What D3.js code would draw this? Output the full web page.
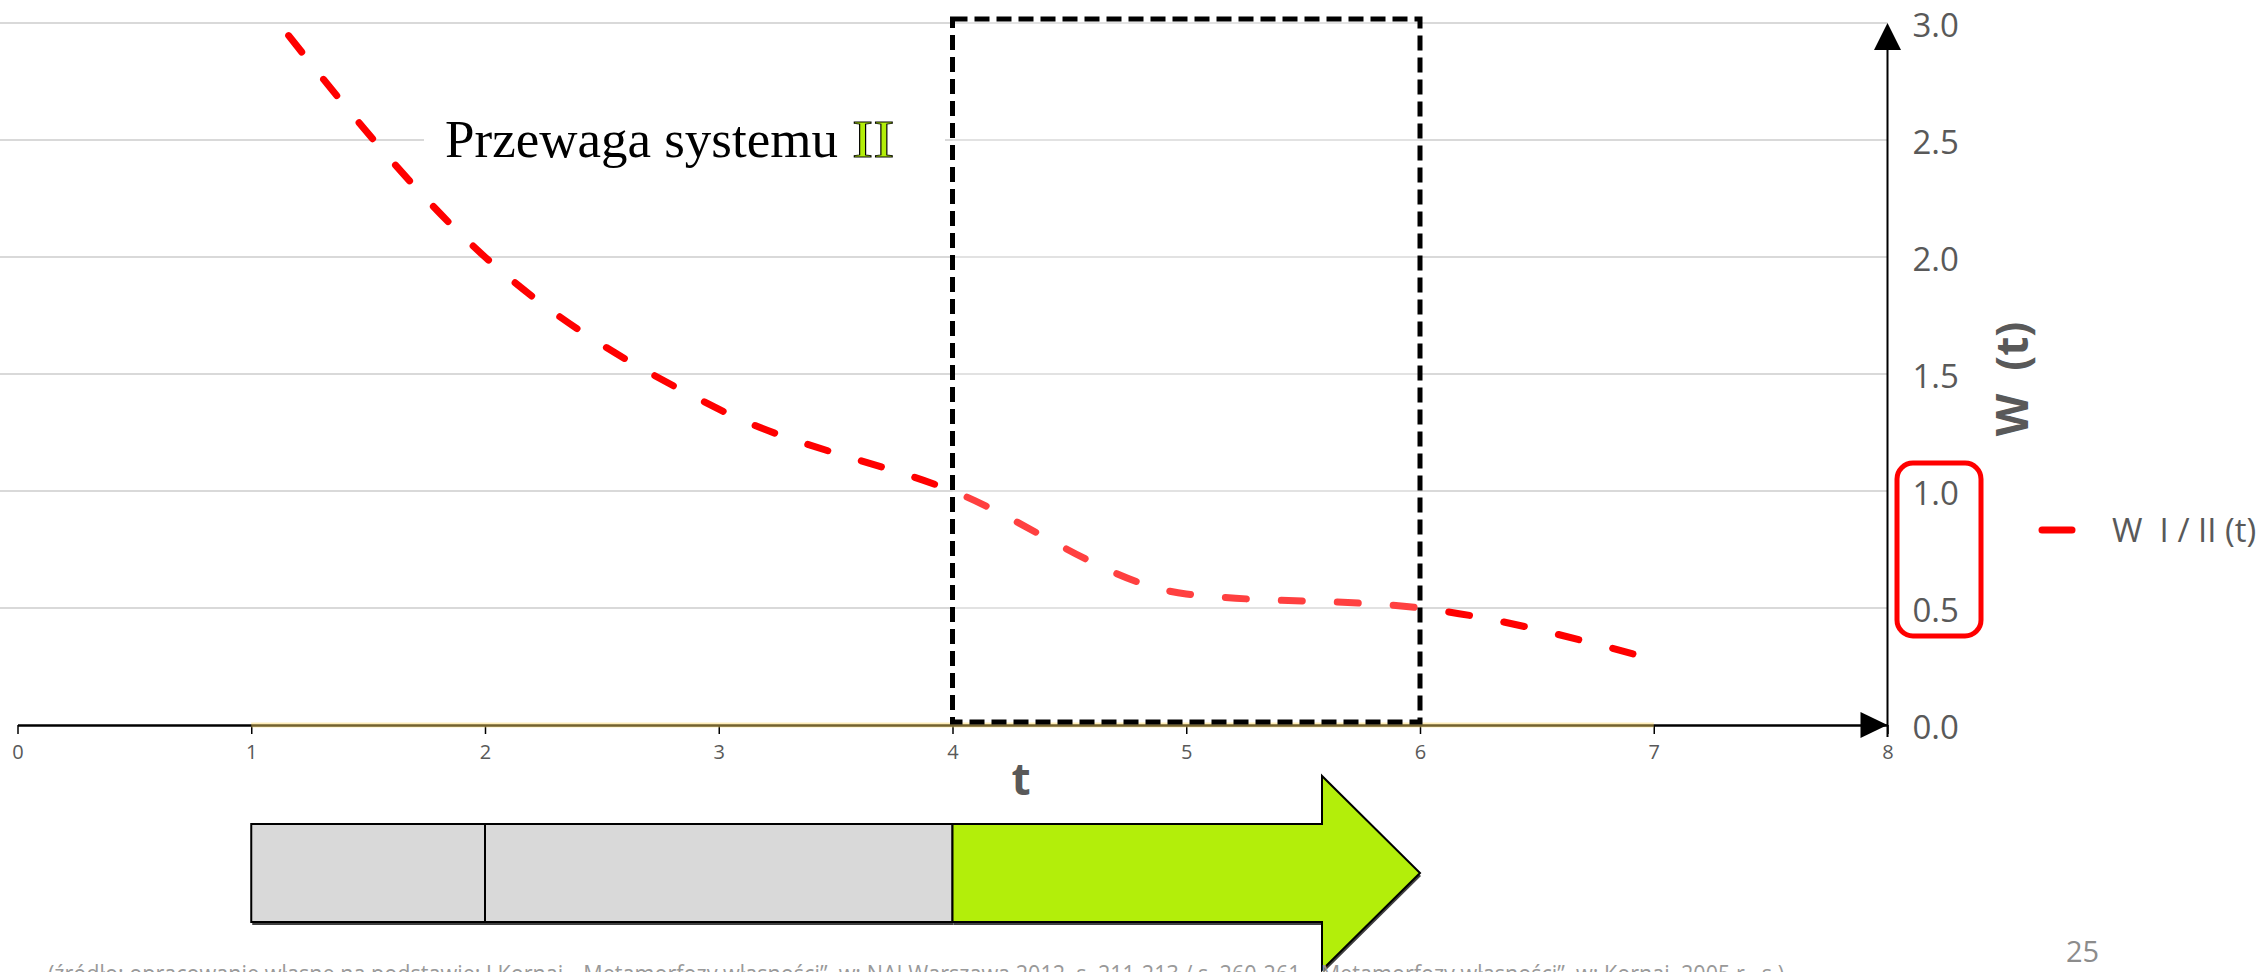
<!DOCTYPE html>
<html><head><meta charset="utf-8">
<script src="https://cdn.jsdelivr.net/npm/d3@7"></script>
<style>body{margin:0;background:#fff;} svg{display:block;} text{white-space:pre;}</style>
</head><body>
<svg id="chart" width="2267" height="972"></svg>
<script>
// ---- data ----
const tValues = [1, 2, 3, 4, 5, 6, 7];
const wValues = [3.15, 2.0, 1.35, 1.0, 0.56, 0.5, 0.28];
const baseValues = [0, 0, 0, 0, 0, 0, 0];
const xTicks = [0, 1, 2, 3, 4, 5, 6, 7, 8];
const yTicks = [0, 0.5, 1.0, 1.5, 2.0, 2.5, 3.0];
const highlightRange = [4, 6];
const phaseBlocks = [[1, 2], [2, 4]];
const arrowRange = [4, 6];
const markedTicks = [1.0, 0.5];
const seriesName = "W  I / II (t)";
const yTitle = "W  (t)";
const xTitle = "t";
const annotation = "Przewaga systemu ";
const annotationNumeral = "II";
const pageNumber = "25";
const sourceNote = "(źródło: opracowanie własne na podstawie: J.Kornai, „Metamorfozy własności”, w: NAI Warszawa 2012, s. 211-213 / s. 260-261, „Metamorfozy własności”, w: Kornai, 2005 r., s.)";

const svg = d3.select("#chart");
const x = d3.scaleLinear().domain([0, 8]).range([17.5, 1887.5]);
const y = d3.scaleLinear().domain([0, 3]).range([725, 23]);
const grey = "#595959";
const green = "#b3ee0a";
const sans = "'Open Sans', 'Noto Sans', sans-serif";

// clip
svg.append("defs").append("clipPath").attr("id", "plotClip")
  .append("rect").attr("x", 0).attr("y", y(3)).attr("width", x(8)).attr("height", y(0) - y(3) + 10);

// gridlines
svg.append("g").selectAll("line").data(yTicks.filter(d => d > 0)).join("line")
  .attr("x1", 0).attr("x2", x(8)).attr("y1", d => y(d)).attr("y2", d => y(d))
  .attr("stroke", "#d9d9d9").attr("stroke-width", 2);

// white text box of annotation
svg.append("rect").attr("x", 424).attr("y", 95).attr("width", 521).attr("height", 85).attr("fill", "#fff");

// x axis
const xAxis = svg.append("g").attr("transform", `translate(0,${y(0)})`)
  .call(d3.axisBottom(x).tickValues(xTicks).tickSize(9).tickSizeOuter(0).tickPadding(11).tickFormat(d3.format("d")));
xAxis.select(".domain").attr("stroke", "#000").attr("stroke-width", 2.5);
xAxis.selectAll(".tick line").attr("stroke", "#000").attr("stroke-width", 1.5);
xAxis.selectAll(".tick text").attr("fill", grey).attr("font-size", 20).attr("font-family", sans);
svg.append("path")
  .attr("d", `M${x(8) - 27},${y(0) - 13}L${x(8)},${y(0)}L${x(8) - 27},${y(0) + 13}Z`).attr("fill", "#000");

// gold zero series
svg.append("path").datum(tValues.map((t, i) => [t, baseValues[i]]))
  .attr("d", d3.line().x(d => x(d[0])).y(d => y(d[1])))
  .attr("fill", "none").attr("stroke", "#ffd966").attr("stroke-opacity", 0.45).attr("stroke-width", 5);

// y axis
svg.append("line").attr("x1", x(8)).attr("x2", x(8)).attr("y1", y(3) + 25).attr("y2", y(0) + 12)
  .attr("stroke", "#000").attr("stroke-width", 2);
svg.append("path")
  .attr("d", `M${x(8) - 13.5},${y(3) + 27}L${x(8)},${y(3)}L${x(8) + 13.5},${y(3) + 27}Z`).attr("fill", "#000");
const yAxis = svg.append("g").attr("transform", `translate(${x(8)},0)`)
  .call(d3.axisRight(y).tickValues(yTicks).tickSize(0).tickPadding(25).tickFormat(d3.format(".1f")));
yAxis.select(".domain").remove();
yAxis.selectAll(".tick text").attr("fill", grey).attr("font-size", 33).attr("font-family", sans).attr("dy", "0.4em");

// red rounded rect around marked ticks
svg.append("rect")
  .attr("x", x(8) + 9.5).attr("y", y(d3.max(markedTicks)) - 28)
  .attr("width", 84).attr("height", y(d3.min(markedTicks)) - y(d3.max(markedTicks)) + 56)
  .attr("rx", 16).attr("fill", "none").attr("stroke", "#ff0000").attr("stroke-width", 5);

// axis titles
svg.append("text").attr("x", 1021).attr("y", 795).attr("text-anchor", "middle")
  .attr("font-family", sans).attr("font-weight", "bold").attr("font-size", 44).attr("fill", grey).text(xTitle);
svg.append("text").attr("transform", "translate(2028,379) rotate(-90)").attr("text-anchor", "middle")
  .attr("font-family", sans).attr("font-weight", "bold").attr("font-size", 44).attr("fill", grey).text(yTitle);

// series line
svg.append("path").datum(tValues.map((t, i) => [t, wValues[i]]))
  .attr("clip-path", "url(#plotClip)")
  .attr("d", d3.line().x(d => x(d[0])).y(d => y(d[1])).curve(d3.curveMonotoneX))
  .attr("fill", "none").attr("stroke", "#ff0000").attr("stroke-width", 7)
  .attr("stroke-dasharray", "21 35").attr("stroke-dashoffset", -4.5).attr("stroke-linecap", "round");

// highlight overlay and dashed box
svg.append("rect").attr("x", x(highlightRange[0])).attr("y", y(3) - 4)
  .attr("width", x(highlightRange[1]) - x(highlightRange[0])).attr("height", y(0) - y(3) + 1)
  .attr("fill", "#fff").attr("fill-opacity", 0.25);
svg.append("rect").attr("x", x(highlightRange[0])).attr("y", y(3) - 4)
  .attr("width", x(highlightRange[1]) - x(highlightRange[0])).attr("height", y(0) - 3 - (y(3) - 4))
  .attr("fill", "none").attr("stroke", "#000").attr("stroke-width", 5).attr("stroke-dasharray", "15 7");

// legend
svg.append("line").attr("x1", 2042).attr("x2", 2072).attr("y1", 530).attr("y2", 530)
  .attr("stroke", "#ff0000").attr("stroke-width", 7).attr("stroke-linecap", "round");
svg.append("text").attr("x", 2112).attr("y", 542).attr("font-family", sans).attr("font-size", 33)
  .attr("fill", grey).text(seriesName);

// annotation
svg.append("text").attr("x", 445).attr("y", 157).attr("font-family", "'Liberation Serif', 'Times New Roman', serif")
  .attr("font-size", 53).attr("fill", "#000").text(annotation);
svg.append("text").attr("transform", "translate(852,157) scale(1.2,1)")
  .attr("font-family", "'Liberation Serif', 'Times New Roman', serif").attr("font-size", 53)
  .attr("fill", green).attr("stroke", "#000").attr("stroke-width", 1).text(annotationNumeral);

// bottom process blocks
const bTop = 824, bBot = 922, hTop = 776, hBot = 970, mid = (bTop + bBot) / 2;
const blocks = svg.append("g");
blocks.selectAll("rect.sh").data(phaseBlocks).join("rect").attr("class", "sh")
  .attr("x", d => x(d[0]) + 1).attr("y", bTop + 3).attr("width", d => x(d[1]) - x(d[0])).attr("height", bBot - bTop)
  .attr("fill", "#404040");
blocks.selectAll("rect.bl").data(phaseBlocks).join("rect").attr("class", "bl")
  .attr("x", d => x(d[0])).attr("y", bTop).attr("width", d => x(d[1]) - x(d[0])).attr("height", bBot - bTop)
  .attr("fill", "#d9d9d9").attr("stroke", "#000").attr("stroke-width", 2);
const headX = x(arrowRange[1]) - 98;
const arrowD = `M${x(arrowRange[0])},${bTop}L${headX},${bTop}L${headX},${hTop}L${x(arrowRange[1])},${mid}L${headX},${hBot}L${headX},${bBot}L${x(arrowRange[0])},${bBot}Z`;
blocks.append("path").attr("d", arrowD).attr("transform", "translate(1,3)").attr("fill", "#404040");
blocks.append("path").attr("d", arrowD).attr("fill", green).attr("stroke", "#000").attr("stroke-width", 2);

// page number and source note
svg.append("text").attr("x", 2066).attr("y", 962).attr("font-family", sans).attr("font-size", 29)
  .attr("fill", "#8c8c8c").text(pageNumber);
svg.append("text").attr("x", 48).attr("y", 982).attr("font-family", sans).attr("font-size", 24)
  .attr("fill", "#999").attr("textLength", 1736).attr("lengthAdjust", "spacingAndGlyphs").text(sourceNote);
</script>
</body></html>
